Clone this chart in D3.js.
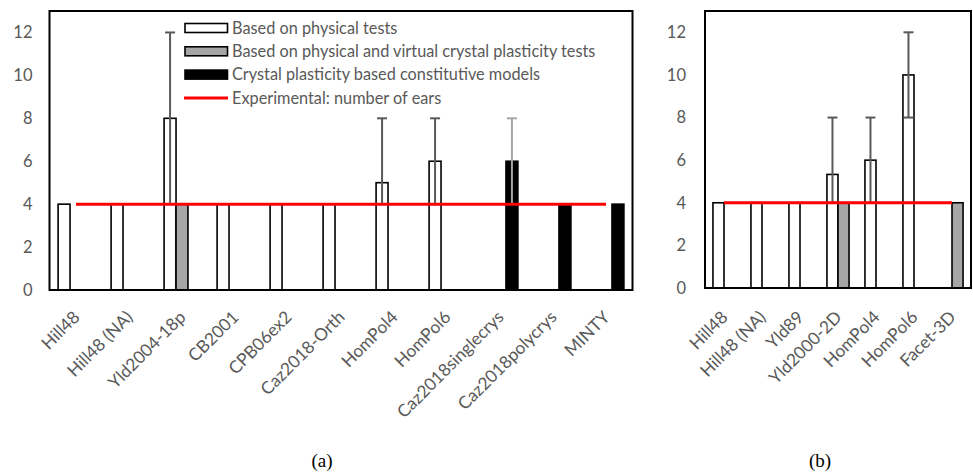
<!DOCTYPE html>
<html>
<head>
<meta charset="utf-8">
<script src="https://cdn.jsdelivr.net/npm/d3@7"></script>
<style>
  html, body { margin: 0; padding: 0; background: #fff; }
  svg { display: block; }
  text { font-family: Lato, "Noto Sans", sans-serif; }
</style>
</head>
<body>
<svg id="chart" width="973" height="475"></svg>
<script>
// ---------- DATA ----------
const categoriesA = ["Hill48", "Hill48 (NA)", "Yld2004-18p", "CB2001", "CPB06ex2", "Caz2018-Orth",
  "HomPol4", "HomPol6", "Caz2018singlecrys", "Caz2018polycrys", "MINTY"];
const physicalA = [4, 4, 8, 4, 4, 4, 5, 6, 0, 0, 0];
const virtualA  = [0, 0, 4, 0, 0, 0, 0, 0, 0, 0, 0];
const crystalA  = [0, 0, 0, 0, 0, 0, 0, 0, 6, 4, 4];
const errLowA   = [null, null, 4, null, null, null, 4, 4, 4, null, null];
const errHighA  = [null, null, 12, null, null, null, 8, 8, 8, null, null];
const experimentalA = [4, 4, 4, 4, 4, 4, 4, 4, 4, 4, 4];

const categoriesB = ["Hill48", "Hill48 (NA)", "Yld89", "Yld2000-2D", "HomPol4", "HomPol6", "Facet-3D"];
const physicalB = [4, 4, 4, 5.33, 6, 10, 0];
const virtualB  = [0, 0, 0, 4, 0, 0, 4];
const errLowB   = [null, null, null, 4, 4, 8, null];
const errHighB  = [null, null, null, 8, 8, 12, null];
const experimentalB = [4, 4, 4, 4, 4, 4, 4];

const yTicks = [0, 2, 4, 6, 8, 10, 12];
const legendLabels = ["Based on physical tests",
  "Based on physical and virtual crystal plasticity tests",
  "Crystal plasticity based constitutive models",
  "Experimental: number of ears"];
const panelLabels = ["(a)", "(b)"];

// ---------- STYLE ----------
const fills = { physical: "#ffffff", virtual: "#a6a6a6", crystal: "#000000" };
const errColors = { physical: "#595959", virtual: "#595959", crystal: "#a6a6a6" };
const textColor = "#595959";

const svg = d3.select("#chart");

function drawPanel(cfg) {
  const g = svg.append("g");
  const x0 = d3.scaleBand().domain(cfg.categories).range([cfg.left, cfg.right]).padding(0);
  const x1 = d3.scaleBand().domain(cfg.series.map(s => s.key)).range([0, x0.bandwidth()])
    .paddingInner(0).paddingOuter(0.72);
  const y = d3.scaleLinear().domain([0, 13]).range([cfg.bottom, cfg.top]);

  // y axis labels
  const yAx = g.append("g").attr("transform", `translate(${cfg.left},0)`)
    .call(d3.axisLeft(y).tickValues(yTicks).tickSize(0).tickPadding(cfg.yPad).tickFormat(d3.format("d")));
  yAx.select(".domain").remove();
  yAx.selectAll("text").attr("fill", textColor).style("font-size", "16.5px");

  // x axis labels (rotated -45deg, right end at the category centre)
  const xAx = g.append("g").attr("transform", `translate(0,${cfg.bottom})`)
    .call(d3.axisBottom(x0).tickSize(0).tickPadding(0));
  xAx.select(".domain").remove();
  xAx.selectAll(".tick text").remove();
  xAx.selectAll(".tick").append("g")
    .attr("transform", `translate(0.5,${cfg.labelDy}) rotate(-45)`)
    .append("text")
    .attr("x", 0).attr("y", 0)
    .attr("text-anchor", "end")
    .attr("dy", "0.35em")
    .attr("fill", textColor)
    .style("font-size", "17.3px")
    .text(d => d);

  // bars
  cfg.series.forEach(s => {
    g.append("g").selectAll("rect")
      .data(cfg.categories.map((c, i) => ({ c, v: s.values[i] })).filter(d => d.v > 0))
      .join("rect")
      .attr("x", d => x0(d.c) + x1(s.key))
      .attr("width", x1.bandwidth())
      .attr("y", d => y(d.v))
      .attr("height", d => y(0) - y(d.v))
      .attr("fill", fills[s.key])
      .attr("stroke", "#000")
      .attr("stroke-width", 1.6);
  });

  // error bars
  cfg.series.forEach(s => {
    if (!s.errLow) return;
    const data = cfg.categories.map((c, i) => ({ c, lo: s.errLow[i], hi: s.errHigh[i], v: s.values[i] }))
      .filter(d => d.lo != null && d.v > 0);
    const eg = g.append("g").attr("stroke", errColors[s.key]).attr("stroke-width", 2);
    data.forEach(d => {
      const cx = x0(d.c) + x1(s.key) + x1.bandwidth() / 2;
      eg.append("line").attr("x1", cx).attr("x2", cx).attr("y1", y(d.lo)).attr("y2", y(d.hi));
      eg.append("line").attr("x1", cx - 5).attr("x2", cx + 5).attr("y1", y(d.hi)).attr("y2", y(d.hi));
      eg.append("line").attr("x1", cx - 5).attr("x2", cx + 5).attr("y1", y(d.lo)).attr("y2", y(d.lo));
    });
  });

  // experimental line
  const line = d3.line().x(d => x0(d.c) + x0.bandwidth() / 2).y(d => y(d.v));
  g.append("path")
    .datum(cfg.categories.map((c, i) => ({ c, v: cfg.experimental[i] })))
    .attr("d", line).attr("fill", "none").attr("stroke", "#ff0000").attr("stroke-width", 3);

  // frame
  g.append("rect").attr("x", cfg.left).attr("y", cfg.top)
    .attr("width", cfg.right - cfg.left).attr("height", cfg.bottom - cfg.top)
    .attr("fill", "none").attr("stroke", "#000").attr("stroke-width", 2);

  // panel label
  g.append("text").attr("x", cfg.labelX).attr("y", 467).attr("text-anchor", "middle")
    .style("font-family", "'Liberation Serif', 'Times New Roman', serif").style("font-size", "19px")
    .attr("fill", "#000").text(cfg.label);
  return { x0, x1, y };
}

drawPanel({
  categories: categoriesA, left: 49.5, right: 632.5, top: 11, bottom: 290, yPad: 17, labelDy: 24,
  series: [
    { key: "physical", values: physicalA, errLow: errLowA, errHigh: errHighA },
    { key: "virtual", values: virtualA },
    { key: "crystal", values: crystalA, errLow: errLowA, errHigh: errHighA }
  ],
  experimental: experimentalA, label: panelLabels[0], labelX: 322
});

drawPanel({
  categories: categoriesB, left: 705, right: 971, top: 11, bottom: 288, yPad: 19, labelDy: 26,
  series: [
    { key: "physical", values: physicalB, errLow: errLowB, errHigh: errHighB },
    { key: "virtual", values: virtualB }
  ],
  experimental: experimentalB, label: panelLabels[1], labelX: 820
});

// legend
const legendKeys = ["physical", "virtual", "crystal", "exp"];
const lg = svg.append("g");
legendKeys.forEach((k, i) => {
  const cy = 28 + i * 23.3;
  if (k === "exp") {
    lg.append("line").attr("x1", 184).attr("x2", 228).attr("y1", cy).attr("y2", cy)
      .attr("stroke", "#ff0000").attr("stroke-width", 3);
  } else {
    lg.append("rect").attr("x", 185).attr("y", cy - 4.5).attr("width", 42.5).attr("height", 9)
      .attr("fill", fills[k]).attr("stroke", "#000").attr("stroke-width", 1.6);
  }
  lg.append("text").attr("x", 232).attr("y", cy).attr("dy", "0.35em")
    .attr("fill", textColor).style("font-size", "16.3px").text(legendLabels[i]);
});
</script>
</body>
</html>
